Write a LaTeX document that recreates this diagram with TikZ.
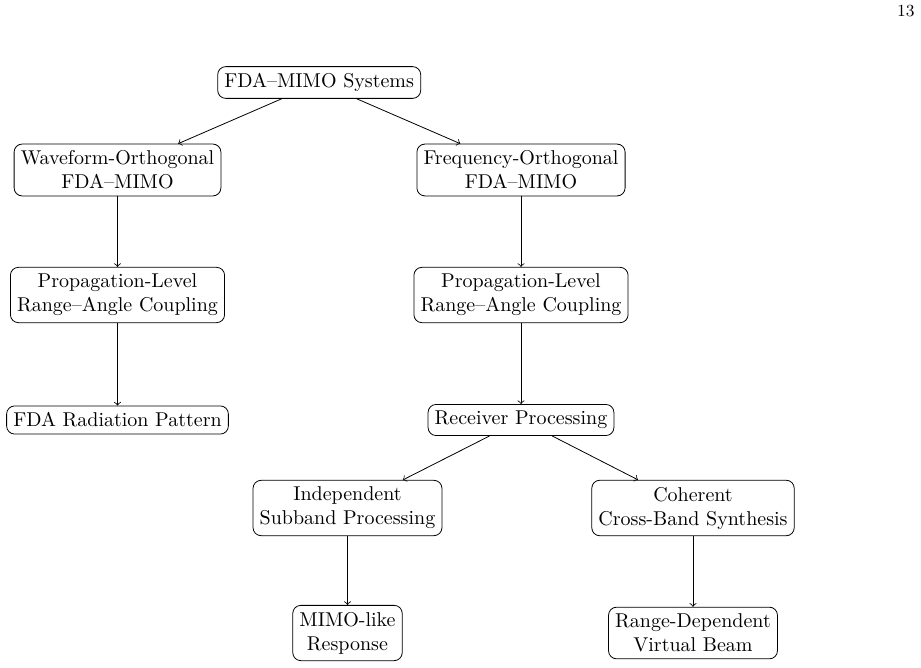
\documentclass[tikz,border=0pt]{standalone}
\usetikzlibrary{arrows}
\begin{document}
\begin{tikzpicture}[x=1pt,y=1pt,
  box/.style={draw, rounded corners=4pt, align=center, inner sep=3.33pt},
  conn/.style={->}]
\useasboundingbox (0,0) rectangle (460.5,-334);
\node[font=\fontsize{8.5}{10}\selectfont, anchor=north east, inner sep=0pt] (pg) at (457.5,-2.5) {13};
\node[box] (root) at (159.6,-41.25) {FDA--MIMO Systems};
\node[box] (wo) at (58.75,-85) {Waveform-Orthogonal\\FDA--MIMO};
\node[box] (fo) at (260.5,-85) {Frequency-Orthogonal\\FDA--MIMO};
\node[box] (pl) at (58.75,-147.5) {Propagation-Level\\Range--Angle Coupling};
\node[box] (pr) at (260.5,-147.5) {Propagation-Level\\Range--Angle Coupling};
\node[box] (rad) at (58.75,-210) {FDA Radiation Pattern};
\node[box] (rx) at (260.5,-210) {Receiver Processing};
\node[box] (ind) at (173.75,-254) {Independent\\Subband Processing};
\node[box] (coh) at (346.5,-254) {Coherent\\Cross-Band Synthesis};
\node[box] (mimo) at (173.75,-316.5) {MIMO-like\\Response};
\node[box] (rdv) at (346.5,-316.5) {Range-Dependent\\Virtual Beam};
\draw[conn] (root) -- (wo);
\draw[conn] (root) -- (fo);
\draw[conn] (wo) -- (pl);
\draw[conn] (pl) -- (rad);
\draw[conn] (fo) -- (pr);
\draw[conn] (pr) -- (rx);
\draw[conn] (rx) -- (ind);
\draw[conn] (rx) -- (coh);
\draw[conn] (ind) -- (mimo);
\draw[conn] (coh) -- (rdv);
\end{tikzpicture}
\end{document}
